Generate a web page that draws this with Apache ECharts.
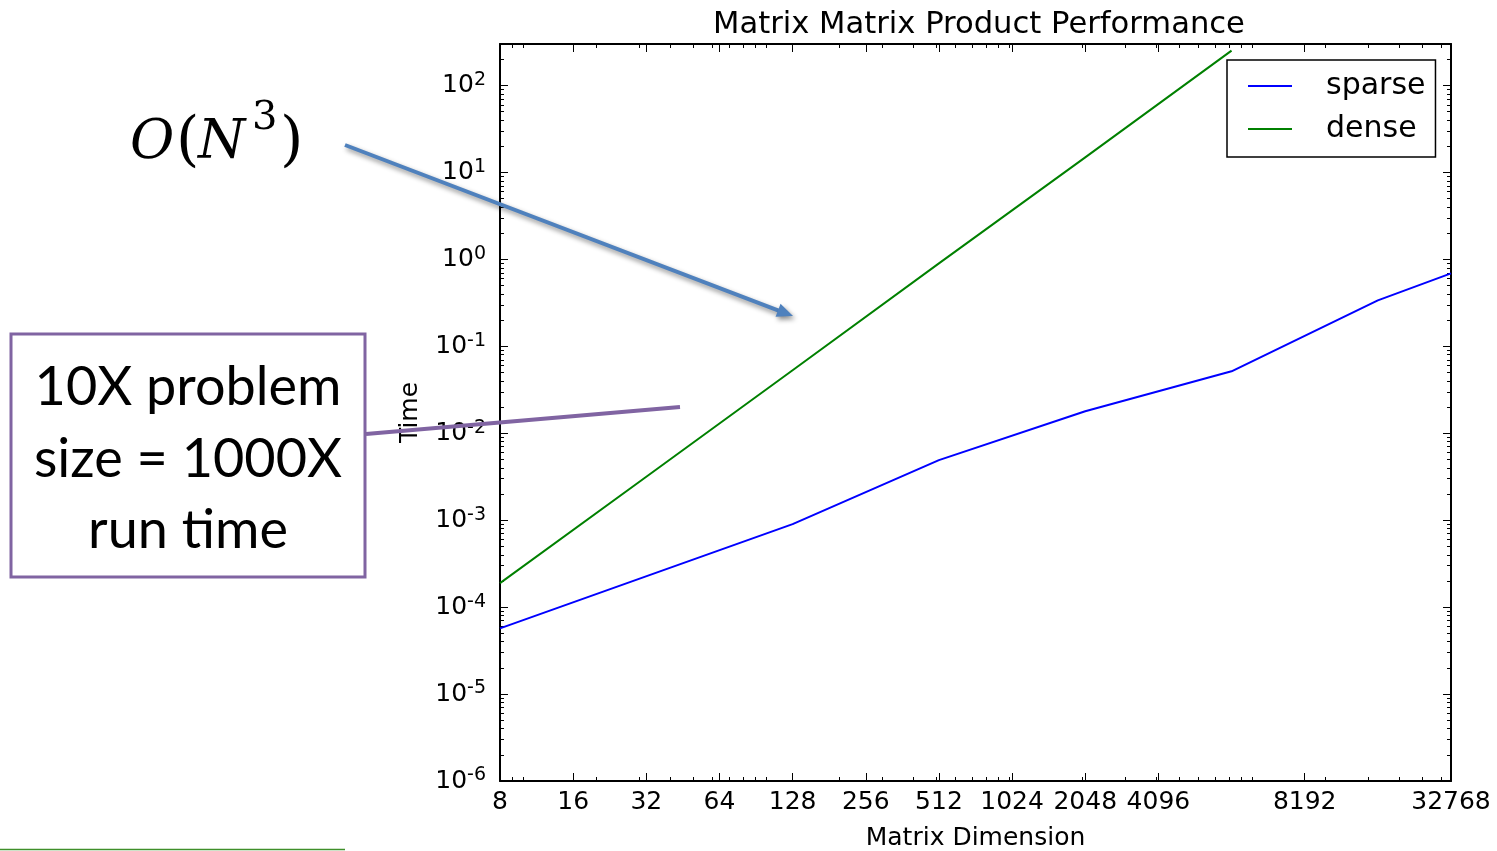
<!DOCTYPE html>
<html>
<head>
<meta charset="utf-8" />
<title>Matrix Matrix Product Performance</title>
<script src="https://cdn.jsdelivr.net/npm/echarts@6/dist/echarts.min.js"></script>
<style>
  html, body { margin: 0; padding: 0; background: #fff; }
  #main { width: 1497px; height: 851px; }
</style>
</head>
<body>
<div id="main"></div>
<script>
// matrix dimension (placement on the log2 axis) and run time in seconds
var sparseN = [8, 128, 512, 2048, 8192, 32768, 65536];
var sparseTime = [5.7e-5, 9.0e-4, 4.9e-3, 0.0179, 0.0516, 0.338, 0.69];
var denseN = [8, 32, 128, 512, 2048, 8192];
var denseTime = [1.89e-4, 3.16e-3, 0.053, 0.90, 14.9, 252];

// x tick positions and the labels printed under them
var xTickN = [8, 16, 32, 64, 128, 256, 512, 1024, 2048, 4096, 16384, 65536];
var xTickText = ['8', '16', '32', '64', '128', '256', '512', '1024', '2048', '4096', '8192', '32768'];
// y decades
var yDecades = [-6, -5, -4, -3, -2, -1, 0, 1, 2];
var yMaxTime = 300;

var xMin = 3, xMax = 16;
var yMin = -6, yMax = Math.log10(yMaxTime);

var labelText = {};
xTickN.forEach(function (n, i) { labelText[Math.log2(n).toFixed(4)] = xTickText[i]; });
var xMajor = xTickN.map(function (n) { return Math.log2(n); });

// minor ticks like matplotlib's log locator
var xMinor = [];
for (var p = 0; p <= 4; p++) {
  for (var k = 1; k <= 9; k++) {
    var v = Math.log2(k * Math.pow(10, p));
    if (v > xMin + 0.01 && v < xMax - 0.01) xMinor.push(v);
  }
}
var yMinor = [];
yDecades.forEach(function (d) {
  for (var k = 2; k <= 9; k++) {
    var v = d + Math.log10(k);
    if (v < yMax - 0.02) yMinor.push(v);
  }
});

function toXY(ns, ts) {
  return ns.map(function (n, i) { return [Math.log2(n), Math.log10(ts[i])]; });
}

var font = 'DejaVu Sans';
var black = '#000';

function xAx(pos, ticks, len, line, labels) {
  return {
    type: 'value', min: xMin, max: xMax, position: pos,
    axisLine: { show: line, onZero: false, lineStyle: { color: black, width: 2 } },
    axisTick: { show: true, inside: true, length: len, customValues: ticks, lineStyle: { color: black, width: 1 } },
    axisLabel: labels ? {
      show: true, customValues: xMajor, margin: 9, color: black, fontSize: 25, fontFamily: font,
      formatter: function (v) { return labelText[v.toFixed(4)] || ''; }
    } : { show: false },
    splitLine: { show: false }
  };
}
function yAx(pos, ticks, len, line, labels) {
  return {
    type: 'value', min: yMin, max: yMax, position: pos,
    axisLine: { show: line, onZero: false, lineStyle: { color: black, width: 2 } },
    axisTick: { show: true, inside: true, length: len, customValues: ticks, lineStyle: { color: black, width: 1 } },
    axisLabel: labels ? {
      show: true, customValues: yDecades, margin: 14, color: black, fontFamily: font,
      formatter: function (v) { return '{b|10}{s|' + Math.round(v) + '}'; },
      rich: {
        b: { fontSize: 25, lineHeight: 30, fontFamily: font, color: black },
        s: { fontSize: 19, lineHeight: 16, verticalAlign: 'top', fontFamily: font, color: black }
      }
    } : { show: false },
    splitLine: { show: false }
  };
}

var xAxes = [
  xAx('bottom', xMajor, 8, true, true),
  xAx('bottom', xMinor, 4, false, false),
  xAx('top', xMajor, 8, true, false),
  xAx('top', xMinor, 4, false, false)
];
xAxes[0].name = 'Matrix Dimension';
xAxes[0].nameLocation = 'middle';
xAxes[0].nameGap = 45;
xAxes[0].nameTextStyle = { fontSize: 25, fontFamily: font, color: black };

var yAxes = [
  yAx('left', yDecades, 8, true, true),
  yAx('left', yMinor, 4, false, false),
  yAx('right', yDecades, 8, true, false),
  yAx('right', yMinor, 4, false, false)
];
yAxes[0].name = 'Time';
yAxes[0].nameLocation = 'middle';
yAxes[0].nameGap = 77;
yAxes[0].nameTextStyle = { fontSize: 25, fontFamily: font, color: black };

var chart = echarts.init(document.getElementById('main'), null, { renderer: 'canvas' });

// arrow pointing at the dense curve
var a0 = [345, 145], a1 = [793, 316];
var adx = a1[0] - a0[0], ady = a1[1] - a0[1];
var alen = Math.sqrt(adx * adx + ady * ady);
var ux = adx / alen, uy = ady / alen;
var headL = 16, headW = 7;
var base = [a1[0] - ux * headL, a1[1] - uy * headL];
var arrowShadow = { shadowBlur: 5, shadowColor: 'rgba(0,0,0,0.45)', shadowOffsetX: 2, shadowOffsetY: 3 };

chart.setOption({
  animation: false,
  textStyle: { fontFamily: font },
  title: {
    text: 'Matrix Matrix Product Performance',
    left: 974, top: 5, textAlign: 'center',
    textStyle: { fontSize: 30.6, fontWeight: 'normal', color: black, fontFamily: font }
  },
  legend: {
    orient: 'vertical',
    left: 1227, top: 60,
    padding: [11, 10, 13, 21],
    itemGap: 13,
    itemWidth: 44, itemHeight: 2,
    icon: 'rect',
    borderColor: black, borderWidth: 1.5, borderRadius: 0,
    backgroundColor: '#fff',
    textStyle: { fontSize: 30, fontFamily: font, color: black, padding: [0, 0, 0, 29] },
    data: ['sparse', 'dense']
  },
  grid: { left: 500, right: 46, top: 44, bottom: 70, containLabel: false, outerBoundsMode: 'none' },
  xAxis: xAxes,
  yAxis: yAxes,
  series: [
    {
      name: 'sparse', type: 'line', showSymbol: false, symbol: 'none',
      data: toXY(sparseN, sparseTime),
      lineStyle: { color: '#0000ff', width: 2 }, itemStyle: { color: '#0000ff' }
    },
    {
      name: 'dense', type: 'line', showSymbol: false, symbol: 'none',
      data: toXY(denseN, denseTime),
      lineStyle: { color: '#008000', width: 2 }, itemStyle: { color: '#008000' }
    }
  ],
  graphic: [
    // O(N^3)
    { type: 'text', x: 130, y: 117, style: { text: 'O', fontSize: 54, fontStyle: 'italic', fontFamily: 'DejaVu Serif', fill: black } },
    { type: 'text', x: 176, y: 113, style: { text: '(', fontSize: 60, fontFamily: 'DejaVu Serif', fill: black } },
    { type: 'text', x: 198, y: 117, style: { text: 'N', fontSize: 54, fontStyle: 'italic', fontFamily: 'DejaVu Serif', fill: black } },
    { type: 'text', x: 252, y: 99, style: { text: '3', fontSize: 40, fontFamily: 'DejaVu Serif', fill: black } },
    { type: 'text', x: 280, y: 113, style: { text: ')', fontSize: 60, fontFamily: 'DejaVu Serif', fill: black } },
    // arrow
    {
      type: 'line', z: 100,
      shape: { x1: a0[0], y1: a0[1], x2: base[0] + ux * 2, y2: base[1] + uy * 2 },
      style: Object.assign({ stroke: '#4f81bd', lineWidth: 4 }, arrowShadow)
    },
    {
      type: 'polygon', z: 100,
      shape: { points: [a1, [base[0] - uy * headW, base[1] + ux * headW], [base[0] + uy * headW, base[1] - ux * headW]] },
      style: Object.assign({ fill: '#4f81bd' }, arrowShadow)
    },
    // call-out box
    {
      type: 'rect', z: 100,
      shape: { x: 11, y: 334, width: 354, height: 243 },
      style: { fill: '#fff', stroke: '#8064a2', lineWidth: 3 }
    },
    {
      type: 'text', z: 101, x: 188, y: 352,
      style: {
        text: '10X problem\nsize = 1000X\nrun time',
        align: 'center', verticalAlign: 'top', fontSize: 54, lineHeight: 71.5, fontFamily: 'Lato', fill: black
      }
    },
    {
      type: 'line', z: 100,
      shape: { x1: 366, y1: 434, x2: 680, y2: 407 },
      style: { stroke: '#8064a2', lineWidth: 4 }
    },
    {
      type: 'line',
      shape: { x1: 0, y1: 849.5, x2: 345, y2: 849.5 },
      style: { stroke: '#3f8f2a', lineWidth: 1.5 }
    }
  ]
});
</script>
</body>
</html>
